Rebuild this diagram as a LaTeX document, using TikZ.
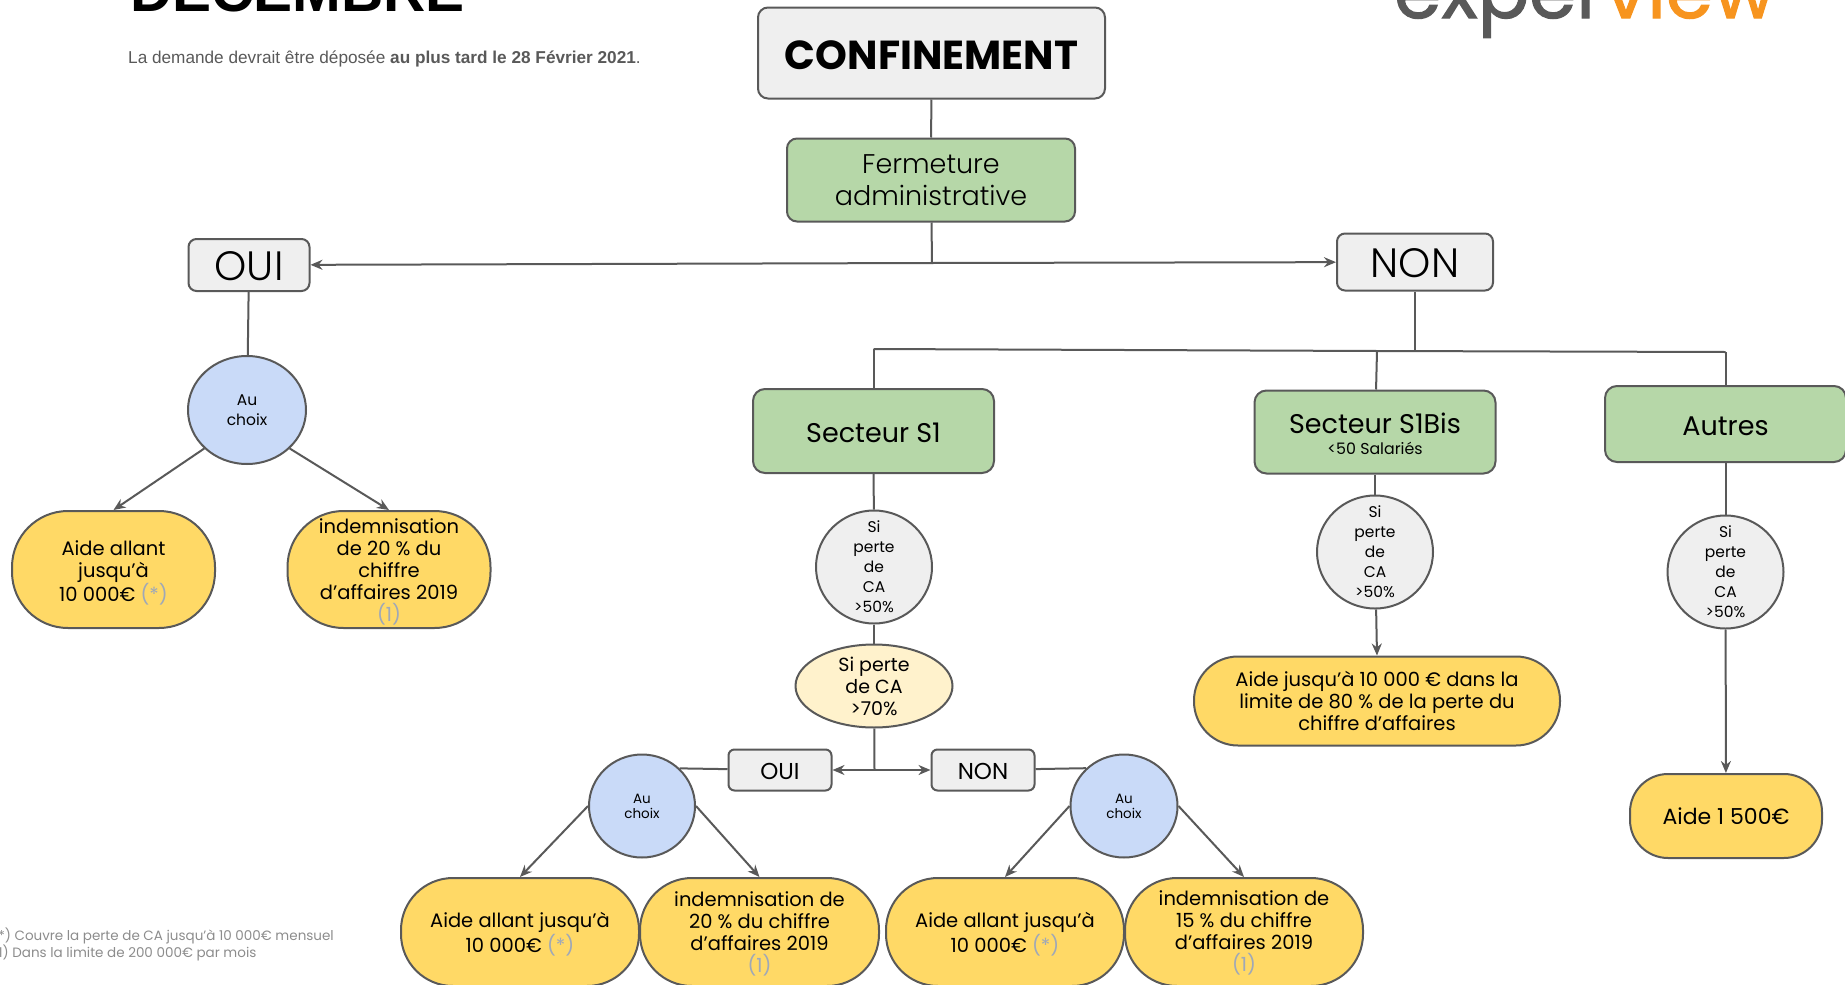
\documentclass[tikz,border=0pt]{standalone}
\usepackage{fontspec}
\setmainfont{Poppins}
\newfontfamily\robotofont{Liberation Sans}
\newfontfamily\legere{Poppins Light}
\usetikzlibrary{shapes.geometric,arrows.meta}
\definecolor{trait}{HTML}{595959}
\definecolor{gris}{HTML}{EFEFEF}
\definecolor{vert}{HTML}{B6D7A8}
\definecolor{bleu}{HTML}{C9DAF8}
\definecolor{jaune}{HTML}{FFD966}
\definecolor{creme}{HTML}{FFF2CC}
\definecolor{renvoi}{HTML}{9FA8B8}
\definecolor{orange}{HTML}{F7941E}
\newcommand{\taille}[2]{\fontsize{#1}{#2}\selectfont}
\newcommand{\renv}[1]{{\color{renvoi}#1}}
\newcommand{\haut}[1]{\rule{0pt}{#1em}}
\tikzset{
  decal/.style={execute at begin node={\rule{0pt}{#1em}}},
  boite/.style={draw=trait,line width=2pt,align=center,inner sep=0pt,text=black},
  titre/.style={boite,decal=.83,fill=gris,rounded corners=10pt,minimum width=347pt,minimum height=91pt,font=\bfseries\taille{40.5}{44}},
  ferme/.style={boite,fill=vert,rounded corners=10pt,minimum width=288pt,minimum height=83pt,font=\legere\taille{27}{32}},
  reponse/.style={boite,decal=.78,fill=gris,rounded corners=8pt,font=\legere\taille{41}{44}},
  petit/.style={boite,decal=.8,fill=gris,rounded corners=6pt,minimum width=103pt,minimum height=41pt,font=\taille{23}{26}},
  secteur/.style={boite,fill=vert,rounded corners=12pt,minimum width=241pt,font=\taille{27}{30}},
  choix/.style={boite,ellipse,fill=bleu,font=\taille{15.5}{20}},
  perte/.style={boite,ellipse,fill=gris,minimum width=116pt,minimum height=113pt,inner ysep=-10pt,font=\taille{15.5}{20}},
  aide/.style={boite,fill=jaune,font=\taille{19.5}{22}},
  lien/.style={draw=trait,line width=2pt},
}
\begin{document}
\begin{tikzpicture}[x=1pt,y=-1pt,>={Stealth[length=12pt,width=10pt]}]
\useasboundingbox (0,0) rectangle (1845,985);
\node[anchor=base west,inner sep=0pt,font=\robotofont\bfseries\taille{58.5}{60}] (decembre) at (130,12) {DECEMBRE};
\node[anchor=base west,inner sep=0pt,text=trait,font=\robotofont\taille{17.2}{20}] (demande) at (128,63) {La demande devrait être déposée {\bfseries au plus tard le 28 Février 2021}.};
\node[anchor=base west,inner sep=0pt,text=trait,font=\taille{76}{80}\addfontfeature{FakeBold=1.5}] (logo) at (1394,18) {exper\textcolor{orange}{view}};
\node[anchor=west,align=left,inner sep=0pt,text=black!45,font=\taille{13.5}{16}] (renvois) at (-8,944) {(*) Couvre la perte de CA jusqu’à 10 000€ mensuel\\(1) Dans la limite de 200 000€ par mois};

\node[titre] (confinement) at (931.5,53) {CONFINEMENT};
\node[ferme] (fermeture) at (931,180) {Fermeture\\administrative};
\node[reponse,minimum width=121pt,minimum height=52pt] (oui) at (249,265) {OUI};
\node[reponse,minimum width=156pt,minimum height=57pt] (non) at (1415,262) {NON};

\node[choix,minimum width=118pt,minimum height=108pt] (choixA) at (247,410) {Au\\choix};
\node[aide,rounded corners=56pt,minimum width=203pt,minimum height=117pt] (aideA) at (113.5,569.5) {\haut{1.1}Aide allant\\jusqu’à\\10 000€ \renv{(*)}};
\node[aide,rounded corners=56pt,minimum width=203pt,minimum height=117pt] (indemA) at (389,569.5) {\haut{1}indemnisation\\de 20 \% du\\chiffre\\d’affaires 2019\\\renv{(1)}};

\node[secteur,decal=.83,minimum height=84pt] (s1) at (873.5,431) {Secteur S1};
\node[secteur,minimum height=83pt] (s1bis) at (1375,432) {\haut{.9}Secteur S1Bis\\[-9pt]{\taille{15.8}{16}<50 Salariés}};
\node[secteur,decal=.83,minimum height=76pt] (autres) at (1725.5,424) {Autres};

\node[perte] (perteA) at (874,567) {Si\\perte\\de\\CA\\>50\%};
\node[perte] (perteB) at (1375,552) {Si\\perte\\de\\CA\\>50\%};
\node[perte] (perteC) at (1725.5,572) {Si\\perte\\de\\CA\\>50\%};
\node[boite,ellipse,fill=creme,minimum width=157pt,minimum height=82pt,font=\taille{19}{22}] (perteD) at (874,686) {Si perte\\de CA\\>70\%};

\node[petit] (ouiS) at (780,770) {OUI};
\node[petit] (nonS) at (983,770) {NON};
\node[choix,font=\taille{13.5}{15},minimum width=106pt,minimum height=103pt] (choixB) at (642,806) {Au\\choix};
\node[choix,font=\taille{13.5}{15},minimum width=107pt,minimum height=103pt] (choixC) at (1124,806) {Au\\choix};

\node[aide,rounded corners=52pt,minimum width=238pt,minimum height=108pt] (aideB) at (520,932) {\haut{1}Aide allant jusqu’à\\10 000€ \renv{(*)}};
\node[aide,rounded corners=52pt,minimum width=239pt,minimum height=108pt] (indemB) at (759.5,932) {\haut{1}indemnisation de\\20 \% du chiffre\\d’affaires 2019\\\renv{(1)}};
\node[aide,rounded corners=52pt,minimum width=238pt,minimum height=108pt] (aideC) at (1005,932) {\haut{1}Aide allant jusqu’à\\10 000€ \renv{(*)}};
\node[aide,rounded corners=52pt,minimum width=238pt,minimum height=108pt] (indemC) at (1244,932) {\haut{.85}indemnisation de\\15 \% du chiffre\\d’affaires 2019\\\renv{(1)}};
\node[aide,rounded corners=44pt,minimum width=366pt,minimum height=89pt] (aideD) at (1377,701) {Aide jusqu’à 10 000 € dans la\\limite de 80 \% de la perte du\\chiffre d’affaires};
\node[aide,decal=.79,rounded corners=38pt,minimum width=192pt,minimum height=84pt,font=\taille{22}{24}] (aideE) at (1726,816) {Aide 1 500€};

\coordinate (centre) at (932,263);
\coordinate (brancheA) at (873.5,349);
\coordinate (brancheB) at (1377,351);
\coordinate (brancheC) at (1725.5,352);
\coordinate (brancheN) at (1415,351);
\coordinate (centreS) at (874.5,770);

\path[lien] (confinement) -- (fermeture);
\path[lien] (fermeture) -- (centre);
\path[lien,->] (centre) -- (oui);
\path[lien,->] (centre) -- (non);
\path[lien] (oui) -- (choixA);
\path[lien,->] (choixA.222) -- (aideA.north);
\path[lien,->] (choixA.318) -- (indemA.north);
\path[lien] (non) -- (brancheN);
\path[lien] (brancheA) -- (brancheB) -- (brancheC);
\path[lien] (brancheA) -- (s1);
\path[lien] (brancheB) -- (s1bis);
\path[lien] (brancheC) -- (autres);
\path[lien] (s1) -- (perteA);
\path[lien] (s1bis) -- (perteB);
\path[lien] (autres) -- (perteC);
\path[lien] (perteA) -- (perteD);
\path[lien,->] (perteB) -- (aideD.north);
\path[lien,->] (perteC) -- (aideE);
\path[lien] (perteD) -- (centreS);
\path[lien,->] (centreS) -- (ouiS);
\path[lien,->] (centreS) -- (nonS);
\path[lien] (ouiS) -- (choixB.45);
\path[lien] (nonS) -- (choixC.135);
\path[lien,->] (choixB.west) -- (aideB.north);
\path[lien,->] (choixB.east) -- (indemB.north);
\path[lien,->] (choixC.west) -- (aideC.north);
\path[lien,->] (choixC.east) -- (indemC.north);
\end{tikzpicture}
\end{document}
